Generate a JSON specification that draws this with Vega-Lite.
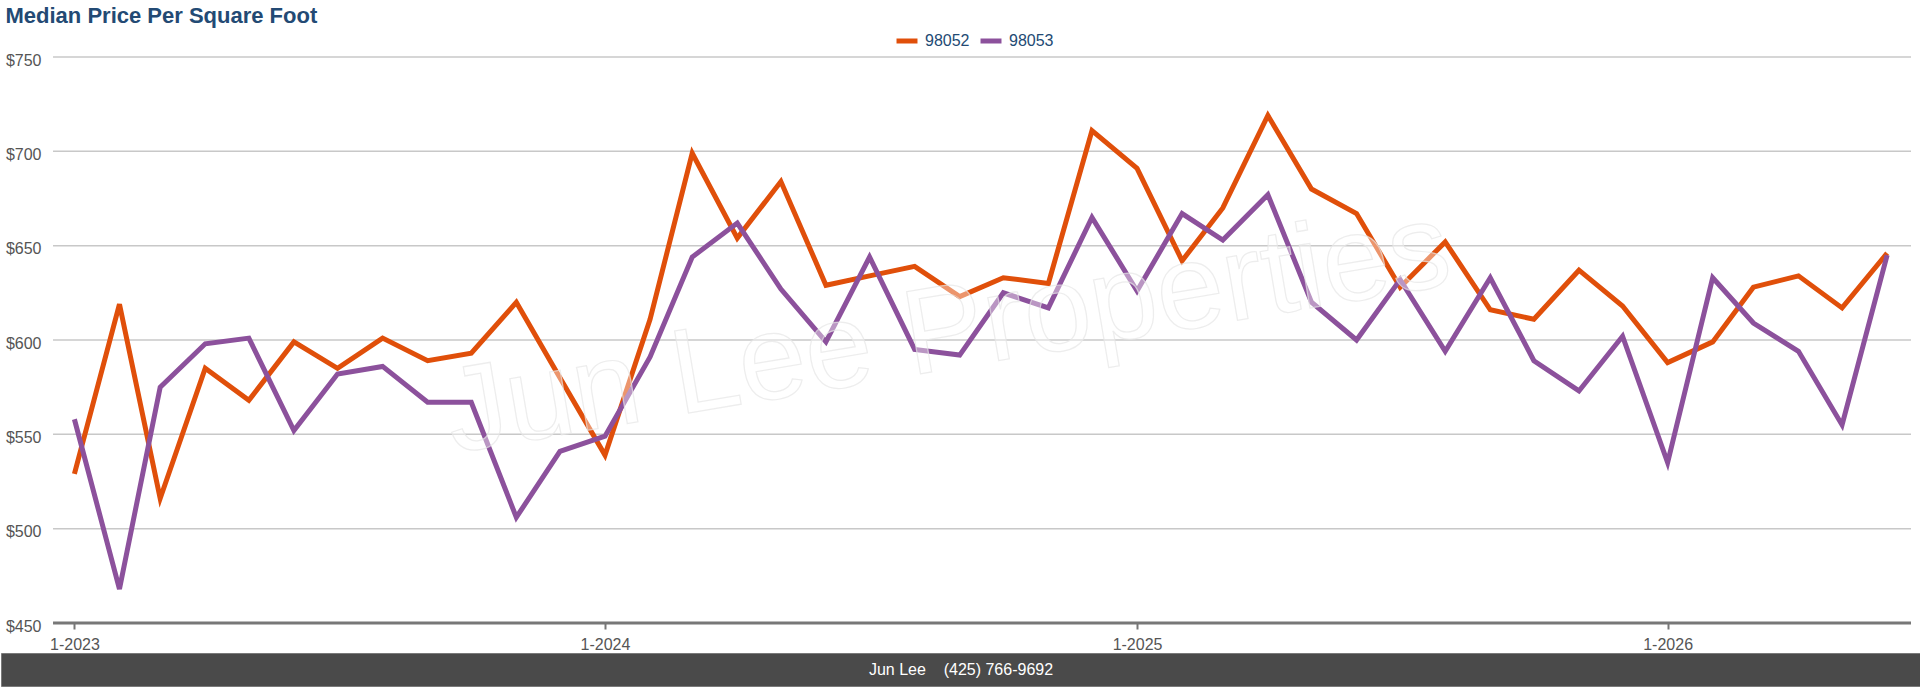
{
  "$schema": "https://vega.github.io/schema/vega-lite/v6.json",
  "padding": {"left": 0, "top": 5, "right": 0, "bottom": 0},
  "background": "white",
  "config": {
    "font": "Liberation Sans",
    "view": {"stroke": null}
  },
  "title": {
    "text": "Median Price Per Square Foot",
    "anchor": "start",
    "fontSize": 22,
    "fontWeight": "bold",
    "color": "#234a74",
    "dx": 5,
    "offset": 0
  },
  "datasets": {
    "prices": [
      {"month": "2023-01-01", "zip": "98052", "price": 529},
      {"month": "2023-02-01", "zip": "98052", "price": 619},
      {"month": "2023-03-01", "zip": "98052", "price": 516},
      {"month": "2023-04-01", "zip": "98052", "price": 585},
      {"month": "2023-05-01", "zip": "98052", "price": 568},
      {"month": "2023-06-01", "zip": "98052", "price": 599},
      {"month": "2023-07-01", "zip": "98052", "price": 585},
      {"month": "2023-08-01", "zip": "98052", "price": 601},
      {"month": "2023-09-01", "zip": "98052", "price": 589},
      {"month": "2023-10-01", "zip": "98052", "price": 593},
      {"month": "2023-11-01", "zip": "98052", "price": 620},
      {"month": "2023-12-01", "zip": "98052", "price": 580},
      {"month": "2024-01-01", "zip": "98052", "price": 539},
      {"month": "2024-02-01", "zip": "98052", "price": 611},
      {"month": "2024-03-01", "zip": "98052", "price": 699},
      {"month": "2024-04-01", "zip": "98052", "price": 654},
      {"month": "2024-05-01", "zip": "98052", "price": 684},
      {"month": "2024-06-01", "zip": "98052", "price": 629},
      {"month": "2024-07-01", "zip": "98052", "price": 634},
      {"month": "2024-08-01", "zip": "98052", "price": 639},
      {"month": "2024-09-01", "zip": "98052", "price": 623},
      {"month": "2024-10-01", "zip": "98052", "price": 633},
      {"month": "2024-11-01", "zip": "98052", "price": 630},
      {"month": "2024-12-01", "zip": "98052", "price": 711},
      {"month": "2025-01-01", "zip": "98052", "price": 691},
      {"month": "2025-02-01", "zip": "98052", "price": 642},
      {"month": "2025-03-01", "zip": "98052", "price": 670},
      {"month": "2025-04-01", "zip": "98052", "price": 719},
      {"month": "2025-05-01", "zip": "98052", "price": 680},
      {"month": "2025-06-01", "zip": "98052", "price": 667},
      {"month": "2025-07-01", "zip": "98052", "price": 628},
      {"month": "2025-08-01", "zip": "98052", "price": 652},
      {"month": "2025-09-01", "zip": "98052", "price": 616},
      {"month": "2025-10-01", "zip": "98052", "price": 611},
      {"month": "2025-11-01", "zip": "98052", "price": 637},
      {"month": "2025-12-01", "zip": "98052", "price": 618},
      {"month": "2026-01-01", "zip": "98052", "price": 588},
      {"month": "2026-02-01", "zip": "98052", "price": 599},
      {"month": "2026-03-01", "zip": "98052", "price": 628},
      {"month": "2026-04-01", "zip": "98052", "price": 634},
      {"month": "2026-05-01", "zip": "98052", "price": 617},
      {"month": "2026-06-01", "zip": "98052", "price": 646},
      {"month": "2023-01-01", "zip": "98053", "price": 558},
      {"month": "2023-02-01", "zip": "98053", "price": 468},
      {"month": "2023-03-01", "zip": "98053", "price": 575},
      {"month": "2023-04-01", "zip": "98053", "price": 598},
      {"month": "2023-05-01", "zip": "98053", "price": 601},
      {"month": "2023-06-01", "zip": "98053", "price": 552},
      {"month": "2023-07-01", "zip": "98053", "price": 582},
      {"month": "2023-08-01", "zip": "98053", "price": 586},
      {"month": "2023-09-01", "zip": "98053", "price": 567},
      {"month": "2023-10-01", "zip": "98053", "price": 567},
      {"month": "2023-11-01", "zip": "98053", "price": 506},
      {"month": "2023-12-01", "zip": "98053", "price": 541},
      {"month": "2024-01-01", "zip": "98053", "price": 549},
      {"month": "2024-02-01", "zip": "98053", "price": 591},
      {"month": "2024-03-01", "zip": "98053", "price": 644},
      {"month": "2024-04-01", "zip": "98053", "price": 662},
      {"month": "2024-05-01", "zip": "98053", "price": 627},
      {"month": "2024-06-01", "zip": "98053", "price": 599},
      {"month": "2024-07-01", "zip": "98053", "price": 644},
      {"month": "2024-08-01", "zip": "98053", "price": 595},
      {"month": "2024-09-01", "zip": "98053", "price": 592},
      {"month": "2024-10-01", "zip": "98053", "price": 625},
      {"month": "2024-11-01", "zip": "98053", "price": 617},
      {"month": "2024-12-01", "zip": "98053", "price": 665},
      {"month": "2025-01-01", "zip": "98053", "price": 626},
      {"month": "2025-02-01", "zip": "98053", "price": 667},
      {"month": "2025-03-01", "zip": "98053", "price": 653},
      {"month": "2025-04-01", "zip": "98053", "price": 677},
      {"month": "2025-05-01", "zip": "98053", "price": 620},
      {"month": "2025-06-01", "zip": "98053", "price": 600},
      {"month": "2025-07-01", "zip": "98053", "price": 632},
      {"month": "2025-08-01", "zip": "98053", "price": 594},
      {"month": "2025-09-01", "zip": "98053", "price": 633},
      {"month": "2025-10-01", "zip": "98053", "price": 589},
      {"month": "2025-11-01", "zip": "98053", "price": 573},
      {"month": "2025-12-01", "zip": "98053", "price": 602},
      {"month": "2026-01-01", "zip": "98053", "price": 535},
      {"month": "2026-02-01", "zip": "98053", "price": 633},
      {"month": "2026-03-01", "zip": "98053", "price": 609},
      {"month": "2026-04-01", "zip": "98053", "price": 594},
      {"month": "2026-05-01", "zip": "98053", "price": 555},
      {"month": "2026-06-01", "zip": "98053", "price": 645}
    ],
    "gridlines": [
      {"start": "2022-12-17T07:00:00Z", "end": "2026-06-17T10:00:00Z", "level": 500},
      {"start": "2022-12-17T07:00:00Z", "end": "2026-06-17T10:00:00Z", "level": 550},
      {"start": "2022-12-17T07:00:00Z", "end": "2026-06-17T10:00:00Z", "level": 600},
      {"start": "2022-12-17T07:00:00Z", "end": "2026-06-17T10:00:00Z", "level": 650},
      {"start": "2022-12-17T07:00:00Z", "end": "2026-06-17T10:00:00Z", "level": 700},
      {"start": "2022-12-17T07:00:00Z", "end": "2026-06-17T10:00:00Z", "level": 750}
    ],
    "axisline": [
      {"start": "2022-12-17T07:00:00Z", "end": "2026-06-17T10:00:00Z", "level": 450}
    ],
    "watermark": [
      {"month": "2024-08-28", "price": 585, "label": "Jun Lee Properties"}
    ],
    "footer": [
      {"contact": "Jun Lee\u00a0\u00a0\u00a0 (425) 766-9692"}
    ]
  },
  "concat": [
    {
      "width": 1910,
      "height": 566,
      "layer": [
        {
          "data": {"name": "gridlines"},
          "mark": {"type": "rule", "color": "#c8c8c8", "strokeWidth": 1.5},
          "encoding": {
            "x": {"field": "start", "type": "temporal"},
            "x2": {"field": "end"},
            "y": {"field": "level", "type": "quantitative"}
          }
        },
        {
          "data": {"name": "axisline"},
          "mark": {"type": "rule", "color": "#777777", "strokeWidth": 3},
          "encoding": {
            "x": {"field": "start", "type": "temporal"},
            "x2": {"field": "end"},
            "y": {"field": "level", "type": "quantitative"}
          }
        },
        {
          "data": {"name": "prices"},
          "mark": {"type": "line", "strokeWidth": 5},
          "encoding": {
            "x": {
              "field": "month",
              "type": "temporal",
              "scale": {
                "type": "utc",
                "domain": [
                  {"year": 2022, "month": 11, "date": 11, "hours": 12, "utc": true},
                  {"year": 2026, "month": 6, "date": 17, "hours": 10, "utc": true}
                ]
              },
              "axis": {
                "title": null,
                "values": [
                  {"year": 2023, "month": 1, "date": 1, "utc": true},
                  {"year": 2024, "month": 1, "date": 1, "utc": true},
                  {"year": 2025, "month": 1, "date": 1, "utc": true},
                  {"year": 2026, "month": 1, "date": 1, "utc": true}
                ],
                "labelExpr": "utcFormat(datum.value, '%-m-%Y')",
                "grid": false,
                "domain": false,
                "tickColor": "#777777",
                "tickWidth": 2,
                "tickSize": 6,
                "labelPadding": 7,
                "labelColor": "#555555",
                "labelFontSize": 16
              }
            },
            "y": {
              "field": "price",
              "type": "quantitative",
              "scale": {"domain": [450, 750], "zero": false, "nice": false},
              "axis": {
                "title": null,
                "values": [450, 500, 550, 600, 650, 700, 750],
                "format": "$.0f",
                "offset": -52,
                "domain": false,
                "ticks": false,
                "grid": false,
                "labelPadding": 12,
                "labelOffset": 3,
                "labelColor": "#555555",
                "labelFontSize": 16
              }
            },
            "color": {
              "field": "zip",
              "type": "nominal",
              "scale": {"domain": ["98052", "98053"], "range": ["#e04f0a", "#8c519c"]},
              "legend": {
                "title": null,
                "orient": "none",
                "direction": "horizontal",
                "legendX": 893,
                "legendY": -29,
                "symbolType": "stroke",
                "symbolStrokeWidth": 5,
                "symbolSize": 440,
                "labelFontSize": 16,
                "labelColor": "#234a74",
                "labelOffset": 5,
                "columnPadding": 0
              }
            }
          }
        },
        {
          "data": {"name": "watermark"},
          "mark": {
            "type": "text",
            "fontSize": 121,
            "angle": 350.4,
            "align": "center",
            "baseline": "alphabetic",
            "fill": "white",
            "fillOpacity": 0.4,
            "stroke": "#e6e6e6",
            "strokeWidth": 1.2,
            "strokeOpacity": 0.7
          },
          "encoding": {
            "x": {"field": "month", "type": "temporal"},
            "y": {"field": "price", "type": "quantitative"},
            "text": {"field": "label"}
          }
        }
      ]
    },
    {
      "width": 1920,
      "height": 33,
      "view": {"fill": "#4a4a4a", "stroke": "#7a7a7a", "strokeWidth": 1},
      "data": {"name": "footer"},
      "mark": {"type": "text", "color": "white", "fontSize": 16, "baseline": "middle"},
      "encoding": {
        "text": {"field": "contact"}
      }
    }
  ],
  "columns": 1,
  "spacing": 0
}
